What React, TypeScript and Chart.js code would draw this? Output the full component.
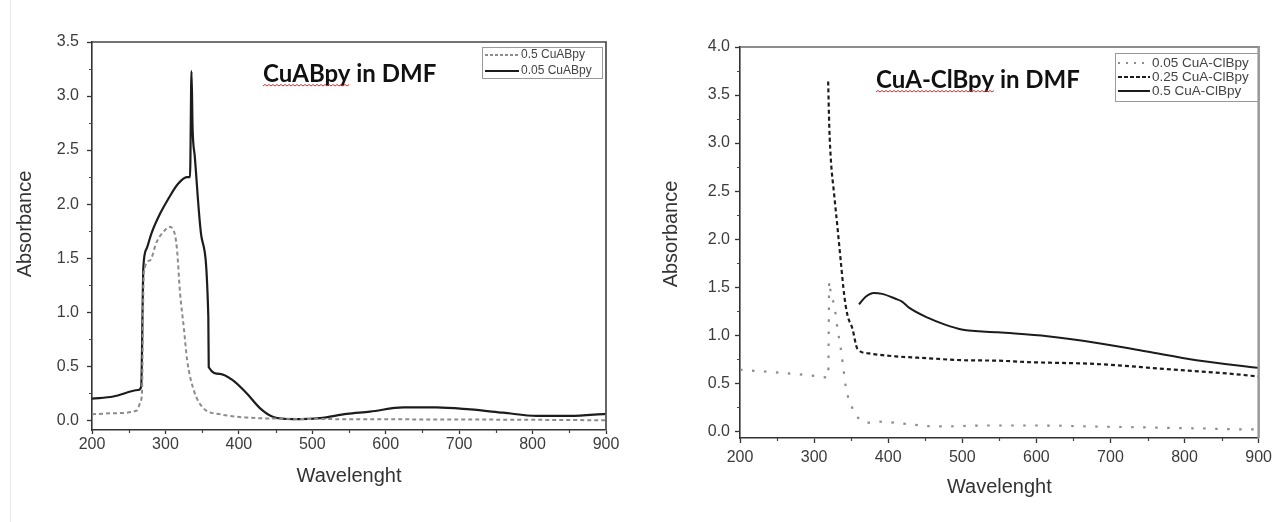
import React, { useEffect, useRef } from "react";
import { Chart, registerables } from "chart.js";

Chart.register(...registerables);

// ---------- shared axis values ----------
const wavelengthTicks = [200, 300, 400, 500, 600, 700, 800, 900];
const wavelengthMinor = [250, 350, 450, 550, 650, 750, 850];
const leftAbsTicks = [0, 0.5, 1, 1.5, 2, 2.5, 3, 3.5];
const leftAbsMinor = [0.25, 0.75, 1.25, 1.75, 2.25, 2.75, 3.25];
const rightAbsTicks = [0, 0.5, 1, 1.5, 2, 2.5, 3, 3.5, 4];
const rightAbsMinor = [0.25, 0.75, 1.25, 1.75, 2.25, 2.75, 3.25, 3.75];

// ---------- left panel: CuABpy in DMF ----------
const cuabpy05X = [200, 229, 261, 265.5, 268, 270.5, 279, 288, 299.5, 305, 311, 315.5, 320, 325, 329.5, 338.5, 352, 375, 411, 456, 550, 650, 750, 900];
const cuabpy05Y = [0.055, 0.065, 0.09, 0.16, 0.25, 1.36, 1.48, 1.65, 1.76, 1.79, 1.76, 1.6, 1.17, 0.86, 0.56, 0.28, 0.11, 0.055, 0.025, 0.015, 0.01, 0.008, 0.006, 0.0];

const cuabpy005X = [200, 229, 263, 267, 270, 274.5, 281, 292.6, 304, 317.5, 329, 333.5, 335.5, 337, 340, 349, 358.4, 359, 374, 392, 410.6, 429, 447, 474, 510.5, 547, 578.6, 624, 669, 715, 760, 805.6, 851, 900];
const cuabpy005Y = [0.2, 0.22, 0.28, 0.31, 1.42, 1.59, 1.73, 1.91, 2.05, 2.19, 2.25, 2.25, 3.23, 2.7, 2.44, 1.7, 0.96, 0.49, 0.43, 0.37, 0.25, 0.11, 0.03, 0.01, 0.02, 0.06, 0.08, 0.12, 0.12, 0.1, 0.07, 0.04, 0.04, 0.06];

// ---------- right panel: CuA-ClBpy in DMF ----------
const clbpy005X = [200, 253.5, 302.7, 319, 320.5, 322.7, 327, 331.6, 336, 340.6, 342.8, 351.7, 360.6, 373, 387, 420, 466, 536, 606, 676, 746, 820, 886, 900];
const clbpy005Y = [0.64, 0.61, 0.575, 0.56, 1.56, 1.42, 1.32, 1.07, 0.86, 0.59, 0.46, 0.24, 0.13, 0.09, 0.1, 0.08, 0.05, 0.06, 0.06, 0.05, 0.04, 0.03, 0.02, 0.02];

const clbpy025X = [319, 320.5, 322.7, 327, 331.6, 336, 340.6, 345, 351.7, 358.4, 374, 409.8, 454, 499, 548, 588, 682, 771, 860, 900];
const clbpy025Y = [3.64, 3.17, 2.82, 2.47, 2.12, 1.77, 1.42, 1.21, 1.07, 0.86, 0.81, 0.78, 0.76, 0.74, 0.735, 0.72, 0.7, 0.65, 0.6, 0.57];

const clbpy05X = [360.6, 369.6, 380.7, 391.8, 409.8, 418.7, 427.6, 454, 476.7, 499, 548, 615, 682, 749, 816, 900];
const clbpy05Y = [1.32, 1.4, 1.44, 1.43, 1.38, 1.35, 1.29, 1.18, 1.11, 1.06, 1.03, 0.99, 0.92, 0.83, 0.74, 0.66];

const toPoints = (xs: number[], ys: number[]) => xs.map((x, i) => ({ x, y: ys[i] }));

const TICK_FONT = { family: "'Liberation Sans', Arial, sans-serif", size: 16 };
const TICK_COLOR = "#3c3c3c";

type LegendItem = { label: string; color: string; width: number; dash: number[] };

const decorPlugin = {
  id: "decor",
  afterDraw(chart: any, _args: any, opts: any) {
    const { ctx, chartArea: a, scales } = chart;
    const xs = scales.x;
    const ys = scales.y;
    ctx.save();
    // frame: top and right
    ctx.lineCap = "butt";
    ctx.strokeStyle = opts.topColor;
    ctx.lineWidth = opts.topWidth;
    ctx.beginPath();
    ctx.moveTo(a.left, a.top);
    ctx.lineTo(a.right + opts.rightWidth / 2, a.top);
    ctx.stroke();
    ctx.strokeStyle = opts.rightColor;
    ctx.lineWidth = opts.rightWidth;
    ctx.beginPath();
    ctx.moveTo(a.right, a.top);
    ctx.lineTo(a.right, a.bottom);
    ctx.stroke();

    // minor ticks
    ctx.strokeStyle = "#444";
    ctx.lineWidth = 1.2;
    ctx.beginPath();
    for (const v of opts.minorX) {
      const px = Math.round(xs.getPixelForValue(v)) + 0.5;
      ctx.moveTo(px, a.bottom);
      ctx.lineTo(px, a.bottom + 3);
    }
    for (const v of opts.minorY) {
      const py = Math.round(ys.getPixelForValue(v)) + 0.5;
      ctx.moveTo(a.left, py);
      ctx.lineTo(a.left - 3, py);
    }
    ctx.stroke();

    // axis titles
    ctx.fillStyle = "#333";
    ctx.font = "20px 'Liberation Sans', Arial, sans-serif";
    ctx.textAlign = "center";
    ctx.textBaseline = "middle";
    ctx.fillText("Wavelenght", (a.left + a.right) / 2, opts.xTitleY);
    ctx.save();
    ctx.translate(opts.yTitleX, opts.yTitleY);
    ctx.rotate(-Math.PI / 2);
    ctx.fillText("Absorbance", 0, 0);
    ctx.restore();

    // chart title with spell-check squiggle under the first word
    ctx.font = `bold ${opts.titleSize}px Lato, 'Open Sans', sans-serif`;
    ctx.fillStyle = "#111";
    ctx.textAlign = "left";
    ctx.textBaseline = "alphabetic";
    ctx.fillText(opts.title, opts.titleX, opts.titleY);
    const w = ctx.measureText(opts.titleWord).width;
    ctx.strokeStyle = "#e02a2a";
    ctx.lineWidth = 1;
    ctx.beginPath();
    const sy = opts.titleY + 4;
    let up = true;
    ctx.moveTo(opts.titleX, sy);
    for (let x = opts.titleX + 2; x <= opts.titleX + w; x += 2) {
      ctx.lineTo(x, up ? sy - 1.5 : sy);
      up = !up;
    }
    ctx.stroke();

    // legend box
    const lg = opts.legend;
    ctx.strokeStyle = "#9a9a9a";
    ctx.lineWidth = 1;
    ctx.strokeRect(lg.x + 0.5, lg.y + 0.5, lg.w, lg.h);
    ctx.font = `${lg.fontSize}px 'Liberation Sans', Arial, sans-serif`;
    ctx.textBaseline = "middle";
    ctx.textAlign = "left";
    (lg.items as LegendItem[]).forEach((it, i) => {
      const yy = lg.y + lg.firstRow + i * lg.rowGap;
      ctx.strokeStyle = it.color;
      ctx.lineWidth = it.width;
      ctx.setLineDash(it.dash);
      ctx.beginPath();
      ctx.moveTo(lg.x + 3, yy);
      ctx.lineTo(lg.x + 3 + lg.sample, yy);
      ctx.stroke();
      ctx.setLineDash([]);
      ctx.fillStyle = "#444";
      ctx.fillText(it.label, lg.x + 5 + lg.sample, yy);
    });
    ctx.restore();
  },
};

function makeConfig(p: any) {
  return {
    type: "line",
    data: { datasets: p.datasets },
    plugins: [decorPlugin],
    options: {
      responsive: false,
      maintainAspectRatio: false,
      animation: false,
      events: [],
      layout: { padding: { left: 0, right: p.padRight, top: p.padTop, bottom: 0 } },
      elements: { point: { radius: 0 }, line: { tension: 0, cubicInterpolationMode: "monotone" } },
      plugins: {
        legend: { display: false },
        tooltip: { enabled: false },
        decor: p.decor,
      },
      scales: {
        x: {
          type: "linear",
          min: 200,
          max: 900,
          afterBuildTicks: (s: any) => {
            s.ticks = wavelengthTicks.map((v) => ({ value: v }));
          },
          afterFit: (s: any) => {
            s.height = p.xAxisHeight;
          },
          ticks: {
            font: TICK_FONT,
            color: TICK_COLOR,
            padding: p.xPad,
            maxRotation: 0,
            callback: (v: any) => String(v),
          },
          grid: { display: true, drawOnChartArea: false, drawTicks: true, tickLength: p.xTick, tickColor: "#333", tickWidth: 1.3 },
          border: { display: true, color: "#333", width: 1.6 },
        },
        y: {
          type: "linear",
          min: p.yMin,
          max: p.yMax,
          afterBuildTicks: (s: any) => {
            s.ticks = p.yTicks.map((v: number) => ({ value: v }));
          },
          afterFit: (s: any) => {
            s.width = p.yAxisWidth;
          },
          ticks: {
            font: TICK_FONT,
            color: TICK_COLOR,
            padding: p.yPad,
            callback: (v: any) => Number(v).toFixed(1),
          },
          grid: { display: true, drawOnChartArea: false, drawTicks: true, tickLength: 5, tickColor: "#333", tickWidth: 1.3 },
          border: { display: true, color: "#333", width: 1.6 },
        },
      },
    },
  };
}

const leftDatasets = [
  {
    label: "0.5 CuABpy",
    data: toPoints(cuabpy05X, cuabpy05Y),
    borderColor: "#8c8c8c",
    borderWidth: 2,
    borderDash: [4, 3],
    fill: false,
  },
  {
    label: "0.05 CuABpy",
    data: toPoints(cuabpy005X, cuabpy005Y),
    borderColor: "#1c1c1c",
    borderWidth: 2.2,
    fill: false,
  },
];

const rightDatasets = [
  {
    label: "0.05 CuA-ClBpy",
    data: toPoints(clbpy005X, clbpy005Y),
    borderColor: "#8c8c8c",
    borderWidth: 2.2,
    borderDash: [2.5, 9.5],
    fill: false,
  },
  {
    label: "0.25 CuA-ClBpy",
    data: toPoints(clbpy025X, clbpy025Y),
    borderColor: "#1c1c1c",
    borderWidth: 2.2,
    borderDash: [4, 3],
    fill: false,
  },
  {
    label: "0.5 CuA-ClBpy",
    data: toPoints(clbpy05X, clbpy05Y),
    borderColor: "#1c1c1c",
    borderWidth: 2,
    fill: false,
  },
];

const leftPanel = {
  datasets: leftDatasets,
  padRight: 34,
  padTop: 42,
  xAxisHeight: 92,
  yAxisWidth: 92,
  xPad: 1,
  xTick: 4,
  yPad: 8,
  yMin: -0.09,
  yMax: 3.5,
  yTicks: leftAbsTicks,
  decor: {
    topColor: "#444",
    topWidth: 1.5,
    rightColor: "#555",
    rightWidth: 1.8,
    minorX: wavelengthMinor,
    minorY: leftAbsMinor,
    xTitleY: 476,
    yTitleX: 25,
    yTitleY: 224,
    title: "CuABpy in DMF",
    titleWord: "CuABpy",
    titleX: 263,
    titleY: 82,
    titleSize: 24,
    legend: {
      x: 482,
      y: 47,
      w: 120,
      h: 31,
      fontSize: 12,
      firstRow: 8,
      rowGap: 16,
      sample: 34,
      items: [
        { label: "0.5 CuABpy", color: "#8c8c8c", width: 2, dash: [3, 2] },
        { label: "0.05 CuABpy", color: "#1c1c1c", width: 2.2, dash: [] },
      ],
    },
  },
};

const rightPanel = {
  datasets: rightDatasets,
  padRight: 15,
  padTop: 47,
  xAxisHeight: 84,
  yAxisWidth: 100,
  xPad: 5,
  xTick: 5,
  yPad: 5,
  yMin: -0.07,
  yMax: 4.0,
  yTicks: rightAbsTicks,
  decor: {
    topColor: "#666",
    topWidth: 1.5,
    rightColor: "#999",
    rightWidth: 2.5,
    minorX: wavelengthMinor,
    minorY: rightAbsMinor,
    xTitleY: 487,
    yTitleX: 31,
    yTitleY: 234,
    title: "CuA-ClBpy in DMF",
    titleWord: "CuA-ClBpy",
    titleX: 236,
    titleY: 88,
    titleSize: 24,
    legend: {
      x: 475,
      y: 53,
      w: 144,
      h: 48,
      fontSize: 13.5,
      firstRow: 10,
      rowGap: 14,
      sample: 32,
      items: [
        { label: "0.05 CuA-ClBpy", color: "#8c8c8c", width: 2, dash: [2, 6] },
        { label: "0.25 CuA-ClBpy", color: "#1c1c1c", width: 2, dash: [4, 2] },
        { label: "0.5 CuA-ClBpy", color: "#1c1c1c", width: 2, dash: [] },
      ],
    },
  },
};

function Panel({ left, width, panel }: { left: number; width: number; panel: any }) {
  const ref = useRef<HTMLCanvasElement | null>(null);
  useEffect(() => {
    if (!ref.current) return;
    const chart = new Chart(ref.current, makeConfig(panel) as any);
    return () => chart.destroy();
  }, [panel]);
  return (
    <canvas
      ref={ref}
      width={width}
      height={522}
      style={{ position: "absolute", left, top: 0, width, height: 522 }}
    />
  );
}

export default function App() {
  return (
    <div style={{ position: "absolute", left: 0, top: 0, width: 1277, height: 522, background: "#fff", overflow: "hidden" }}>
      <div style={{ position: "absolute", left: 10, top: 0, width: 1, height: 522, background: "#e6e6e6" }} />
      <Panel left={0} width={640} panel={leftPanel} />
      <Panel left={640} width={637} panel={rightPanel} />
    </div>
  );
}
